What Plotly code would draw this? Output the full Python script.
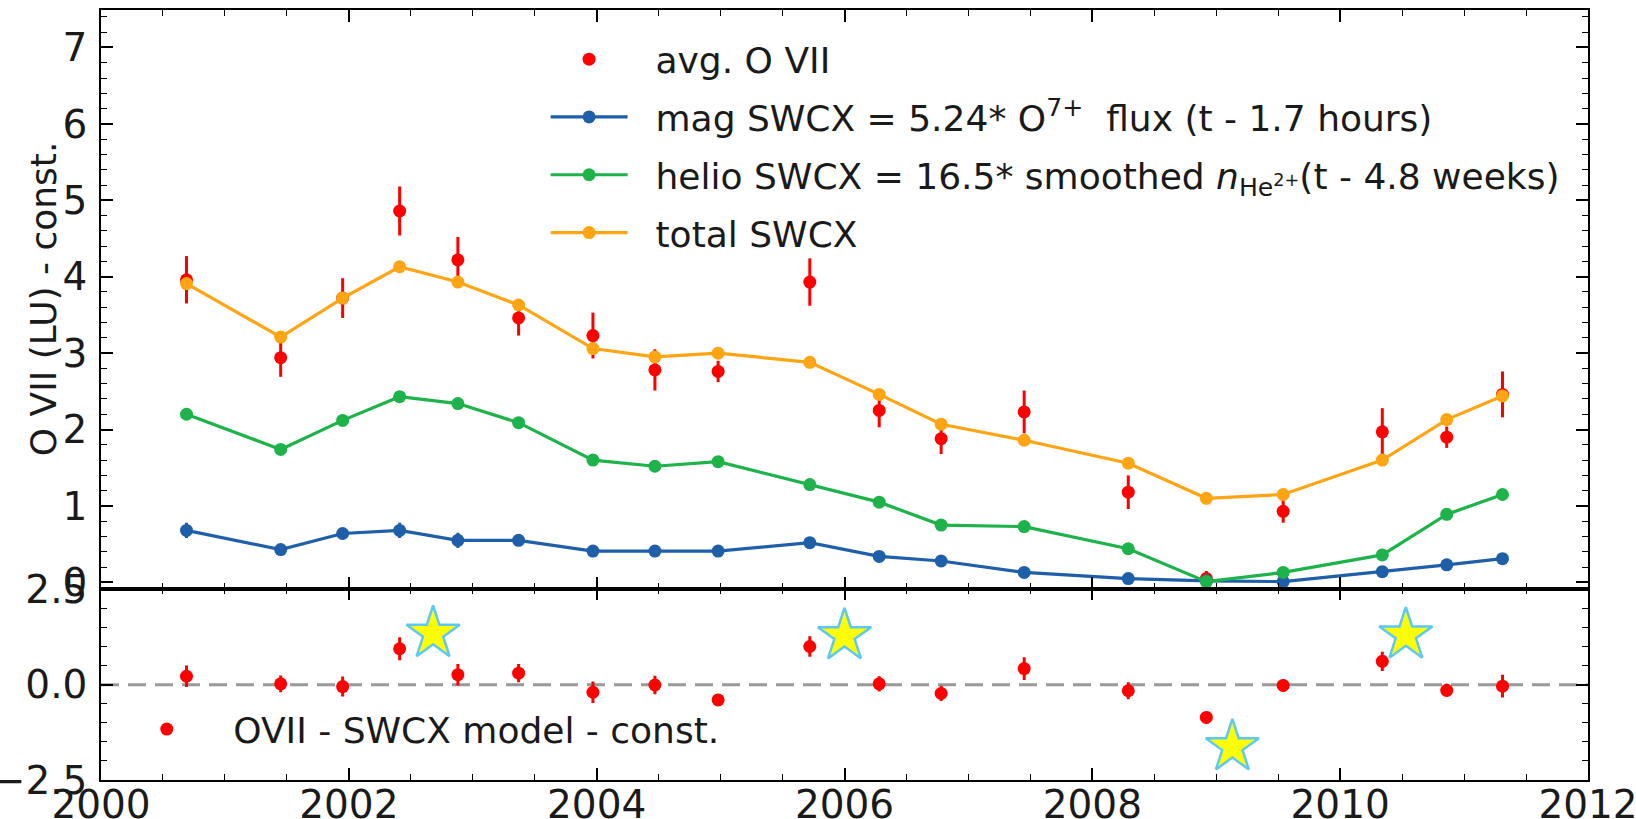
import plotly.graph_objects as go

# ---------------- data ----------------
years = [2000.69, 2001.45, 2001.95, 2002.41, 2002.88, 2003.37, 2003.97, 2004.47, 2004.98,
         2005.72, 2006.28, 2006.78, 2007.45, 2008.29, 2008.92, 2009.54, 2010.34, 2010.86, 2011.31]

ovii = [3.96, 2.94, 3.72, 4.86, 4.22, 3.46, 3.23, 2.78, 2.76,
        3.93, 2.25, 1.88, 2.23, 1.18, 0.05, 0.93, 1.97, 1.90, 2.46]
ovii_err = [0.31, 0.25, 0.26, 0.32, 0.30, 0.23, 0.30, 0.27, 0.14,
            0.31, 0.22, 0.20, 0.28, 0.22, 0.10, 0.15, 0.31, 0.14, 0.30]

mag = [0.68, 0.43, 0.64, 0.68, 0.55, 0.55, 0.41, 0.41, 0.41,
       0.52, 0.34, 0.28, 0.13, 0.05, 0.02, 0.01, 0.14, 0.23, 0.31]
mag_err = [0.10, 0.05, 0.06, 0.10, 0.10, 0.06, 0.05, 0.04, 0.04,
           0.06, 0.04, 0.03, 0.03, 0.02, 0.01, 0.01, 0.02, 0.02, 0.03]

helio = [2.20, 1.74, 2.12, 2.43, 2.34, 2.09, 1.60, 1.52, 1.58,
         1.28, 1.05, 0.75, 0.73, 0.44, 0.01, 0.13, 0.36, 0.89, 1.15]
helio_err = [0.03] * 19

total = [3.91, 3.21, 3.72, 4.13, 3.93, 3.63, 3.06, 2.95, 3.00,
         2.88, 2.46, 2.07, 1.86, 1.56, 1.10, 1.15, 1.60, 2.13, 2.44]
total_err = [0.03] * 19

resid = [0.22, 0.02, -0.05, 0.94, 0.26, 0.30, -0.20, -0.01, -0.40,
         1.00, 0.02, -0.23, 0.42, -0.16, -0.86, -0.02, 0.61, -0.15, -0.04]
resid_err = [0.28, 0.22, 0.26, 0.30, 0.28, 0.24, 0.28, 0.24, 0.12,
             0.27, 0.20, 0.20, 0.30, 0.22, 0.15, 0.17, 0.25, 0.17, 0.30]

star_x = [2002.68, 2006.0, 2010.53, 2009.13]
star_y = [1.34, 1.28, 1.30, -1.63]

x_ticks = [2000, 2002, 2004, 2006, 2008, 2010, 2012]

RED = "#ff0000"
BLUE = "#1f5fa9"
GREEN = "#1db34a"
ORANGE = "#ffa514"
FONT = "DejaVu Sans"
TICK_FS = 39
LEG_FS = 36
TITLE_FS = 36
TXT = "#1a1a1a"
PAD = "\u00a0\u00a0"
MS = 13

fig = go.Figure()

fig.add_trace(go.Scatter(
    x=years, y=ovii, mode="markers", name=PAD + "avg. O VII",
    marker=dict(color=RED, size=MS),
    error_y=dict(type="data", array=ovii_err, color=RED, thickness=3, width=0),
    legendgroup="a", xaxis="x", yaxis="y"))
fig.add_trace(go.Scatter(
    x=years, y=mag, mode="lines+markers",
    name=PAD + "mag SWCX = 5.24* O<sup>7+</sup>  flux (t - 1.7 hours)",
    line=dict(color=BLUE, width=3.2), marker=dict(color=BLUE, size=MS),
    error_y=dict(type="data", array=mag_err, color=BLUE, thickness=3, width=0),
    legendgroup="b", xaxis="x", yaxis="y"))
fig.add_trace(go.Scatter(
    x=years, y=helio, mode="lines+markers",
    name=PAD + "helio SWCX = 16.5* smoothed <i>n</i><sub>He<sup>2+</sup></sub>(t - 4.8 weeks)",
    line=dict(color=GREEN, width=3.2), marker=dict(color=GREEN, size=MS),
    error_y=dict(type="data", array=helio_err, color=GREEN, thickness=3, width=0),
    legendgroup="c", xaxis="x", yaxis="y"))
fig.add_trace(go.Scatter(
    x=years, y=total, mode="lines+markers", name=PAD + "total SWCX",
    line=dict(color=ORANGE, width=3.2), marker=dict(color=ORANGE, size=MS),
    error_y=dict(type="data", array=total_err, color=ORANGE, thickness=3, width=0),
    legendgroup="d", xaxis="x", yaxis="y"))

fig.add_trace(go.Scatter(
    x=years, y=resid, mode="markers", name=PAD + "OVII - SWCX model - const.",
    marker=dict(color=RED, size=MS),
    error_y=dict(type="data", array=resid_err, color=RED, thickness=3, width=0),
    xaxis="x2", yaxis="y2", legend="legend2"))
fig.add_trace(go.Scatter(
    x=star_x, y=star_y, mode="markers", showlegend=False,
    marker=dict(symbol="star", size=40, color="#ffff00",
                line=dict(color="#5cc8f8", width=2.5)),
    xaxis="x2", yaxis="y2"))

axis_common = dict(
    showline=True, linecolor="black", linewidth=1.6, mirror="allticks",
    ticks="inside", ticklen=12, tickwidth=1.6, tickcolor="black",
    showgrid=False, zeroline=False, automargin=False, ticklabeloverflow="allow",
    tickfont=dict(family=FONT, size=TICK_FS, color=TXT),
)
minor_x = dict(dtick=0.5, tick0=2000, ticks="inside", ticklen=6, tickwidth=1.3, tickcolor="black")

split = 0.2487
fig.update_layout(
    width=1636, height=819,
    margin=dict(l=101, r=48, t=10, b=39),
    plot_bgcolor="white", paper_bgcolor="white",
    font=dict(family=FONT, size=LEG_FS, color=TXT),
    xaxis=dict(**axis_common, range=[2000, 2012], tickvals=x_ticks, showticklabels=False,
               anchor="y", domain=[0, 1], minor=minor_x),
    yaxis=dict(**axis_common, range=[-0.08, 7.49], dtick=1, tick0=0, domain=[split, 1], anchor="x",
               ticklabelstandoff=4,
               minor=dict(dtick=0.2, tick0=0, ticks="inside", ticklen=6, tickwidth=1.3, tickcolor="black")),
    xaxis2=dict(**axis_common, range=[2000, 2012], tickvals=x_ticks, anchor="y2", domain=[0, 1],
                matches="x", minor=minor_x, ticklabelstandoff=-11),
    yaxis2=dict(**axis_common, range=[-2.5, 2.52], tickvals=[-2.5, 0, 2.5], tickformat=".1f",
                domain=[0, split], anchor="x2", ticklabelstandoff=4,
                minor=dict(dtick=0.5, tick0=0, ticks="inside", ticklen=6, tickwidth=1.3, tickcolor="black")),
    legend=dict(x=0.299, y=0.975, xanchor="left", yanchor="top", bgcolor="rgba(0,0,0,0)",
                font=dict(family=FONT, size=LEG_FS, color=TXT), itemwidth=77,
                traceorder="grouped", tracegroupgap=8),
    legend2=dict(x=0.015, y=0.066, xanchor="left", yanchor="middle", bgcolor="rgba(0,0,0,0)",
                 font=dict(family=FONT, size=LEG_FS, color=TXT), itemwidth=77),
    showlegend=True,
)

fig.add_annotation(text="O VII (LU) - const.", xref="paper", yref="y domain",
                   x=-0.039, y=0.5, xanchor="center", yanchor="middle", textangle=-90,
                   showarrow=False, font=dict(family=FONT, size=TITLE_FS, color=TXT))

fig.add_shape(type="line", xref="x2 domain", yref="y2", x0=0, x1=1, y0=0, y1=0,
              line=dict(color="#999999", width=3, dash="18px,9px"), layer="below")

fig.write_html("out.html")
